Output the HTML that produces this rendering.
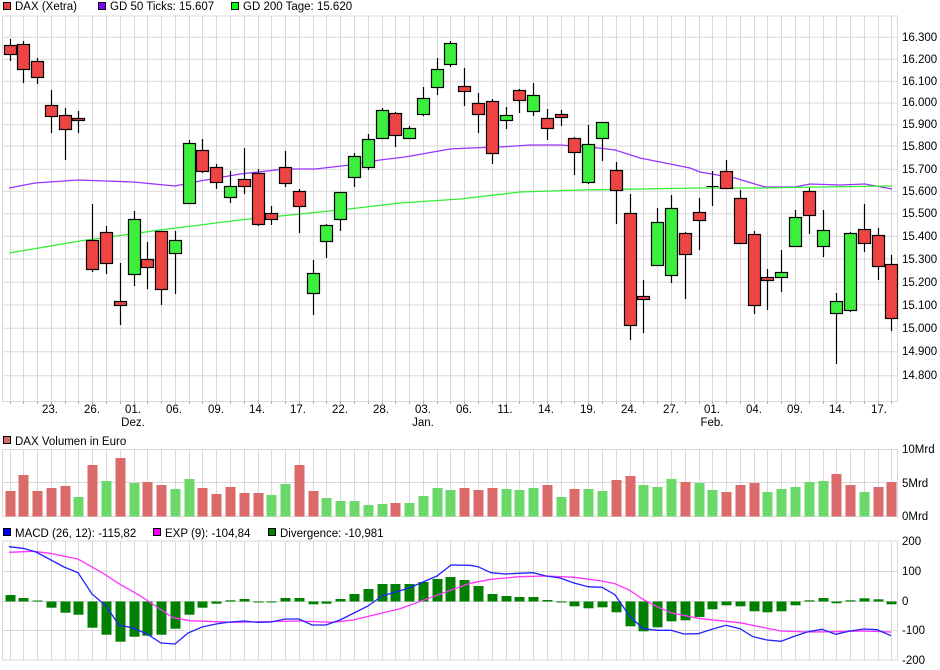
<!DOCTYPE html>
<html><head><meta charset="utf-8"><style>
html,body{margin:0;padding:0;background:#fff;}
svg{display:block;font-family:"Liberation Sans",sans-serif;}
</style></head><body>
<svg id="s" width="940" height="670" viewBox="0 0 940 670" xmlns="http://www.w3.org/2000/svg">
<rect width="940" height="670" fill="#fff"/>
<g id="grid"></g>
<g id="content"></g>
<g font-size="11.5" fill="#000">
<rect x="3.5" y="2.5" width="7" height="7" fill="#e84040" stroke="#000"/><text x="15" y="10">DAX (Xetra)</text>
<rect x="98.5" y="2.5" width="7" height="7" fill="#8000ff" stroke="#000"/><text x="110" y="10">GD 50 Ticks: 15.607</text>
<rect x="231.5" y="2.5" width="7" height="7" fill="#00ff00" stroke="#000"/><text x="243" y="10">GD 200 Tage: 15.620</text>
<rect x="3.5" y="436.5" width="7" height="7" fill="#d96b6b" stroke="#000"/><text x="15" y="445">DAX Volumen in Euro</text>
<rect x="3.5" y="528.5" width="7" height="7" fill="#0000ff" stroke="#000"/><text x="15" y="537">MACD (26, 12): -115,82</text>
<rect x="153.5" y="528.5" width="7" height="7" fill="#ff00ff" stroke="#000"/><text x="165" y="537">EXP (9): -104,84</text>
<rect x="268.5" y="528.5" width="7" height="7" fill="#008000" stroke="#000"/><text x="280" y="537">Divergence: -10,981</text>
</g>
<g font-size="11.5" fill="#000">
<text x="902" y="41">16.300</text><text x="902" y="63">16.200</text><text x="902" y="85">16.100</text><text x="902" y="106">16.000</text>
<text x="902" y="128">15.900</text><text x="902" y="150">15.800</text><text x="902" y="173">15.700</text><text x="902" y="195">15.600</text>
<text x="902" y="217">15.500</text><text x="902" y="240">15.400</text><text x="902" y="263">15.300</text><text x="902" y="286">15.200</text>
<text x="902" y="309">15.100</text><text x="902" y="332">15.000</text><text x="902" y="355">14.900</text><text x="902" y="379">14.800</text>
<text x="902" y="453">10Mrd</text><text x="902" y="487">5Mrd</text><text x="902" y="520">0Mrd</text>
<text x="902" y="545">200</text><text x="902" y="575">100</text><text x="902" y="605">0</text><text x="902" y="634">-100</text><text x="902" y="664">-200</text>
</g>
<g font-size="11.5" fill="#000" text-anchor="middle">
<text x="50" y="413">23.</text><text x="92" y="413">26.</text><text x="133" y="413">01.</text><text x="174" y="413">06.</text>
<text x="216" y="413">09.</text><text x="257" y="413">14.</text><text x="298" y="413">17.</text><text x="340" y="413">22.</text>
<text x="381" y="413">28.</text><text x="423" y="413">03.</text><text x="464" y="413">06.</text><text x="505" y="413">11.</text>
<text x="546" y="413">14.</text><text x="588" y="413">19.</text><text x="629" y="413">24.</text><text x="671" y="413">27.</text>
<text x="712" y="413">01.</text><text x="754" y="413">04.</text><text x="795" y="413">09.</text><text x="837" y="413">14.</text>
<text x="879" y="413">17.</text>
<text x="133" y="426">Dez.</text><text x="423" y="426">Jan.</text><text x="712" y="426">Feb.</text>
</g>
</svg>
<script>
var NS="http://www.w3.org/2000/svg";
function el(p,t,a){var e=document.createElementNS(NS,t);for(var k in a)e.setAttribute(k,a[k]);p.appendChild(e);return e;}
var G=document.getElementById('grid'),C=document.getElementById('content');
function X(k){return 9.5+k*13.78;}
var gc="#d8d8d8";
// main panel grid
var hy=[16,37.3,59.3,81.3,103,124.7,146,169.3,191.3,213.7,236.3,259,282.3,305,328.3,351.7,375.7,401.5];
hy.forEach(function(y){el(G,'line',{x1:2,x2:898,y1:y,y2:y,stroke:gc,'stroke-width':1});});
[[449.5,482.5,516.5],[541,571.5,601.5,630.5,660]].forEach(function(a){a.forEach(function(y){el(G,'line',{x1:2,x2:898,y1:y,y2:y,stroke:gc});});});
for(var k=0;k<65;k++){var x=Math.round(X(k))+0.5;
 el(G,'line',{x1:x,x2:x,y1:16,y2:401.5,stroke:gc});
 el(G,'line',{x1:x,x2:x,y1:401.5,y2:404,stroke:'#aaa'});
 el(G,'line',{x1:x,x2:x,y1:449.5,y2:516.5,stroke:gc});
 el(G,'line',{x1:x,x2:x,y1:541,y2:660,stroke:gc});}
[2.5,897.5].forEach(function(x){el(G,'line',{x1:x,x2:x,y1:16,y2:401.5,stroke:gc});el(G,'line',{x1:x,x2:x,y1:449.5,y2:516.5,stroke:gc});el(G,'line',{x1:x,x2:x,y1:541,y2:660,stroke:gc});});
// MAs
function pl(pts,col){el(C,'polyline',{points:pts.map(function(p){return p.join(',')}).join(' '),fill:'none',stroke:col,'stroke-width':1.3});}
pl([[9,188],[35,183],[78,180],[105,181],[133,182],[175,186],[200,181],[240,174],[285,169],[315,169],[350,165],[380,160],[405,157],[450,149],[470,148],[500,147],[530,145],[560,145],[590,147],[615,150],[640,158],[660,162],[690,168],[700,172],[735,178],[765,187],[795,187],[810,184],[840,185],[865,184],[892,189]],'#9933ff');
pl([[9,253],[80,241],[160,230],[240,220],[300,214],[340,210],[400,203],[460,199],[520,192],[580,190],[640,189],[700,188],[760,188],[820,187],[892,186]],'#33ee33');
// candles: bodyTop, bodyBot, wickTop, wickBot, color
var cd=[[45,54,39,61,'r'],[44,69,41,83,'r'],[61,77,58,84,'r'],[105,116,90,133,'r'],[115,129,108,160,'r'],[118,120,111,133,'r'],
[240,269,204,272,'r'],[232,263,226,274,'r'],[301,305,263,325,'r'],[219,274,211,286,'g'],[259,267,242,289,'r'],[231,289,231,305,'r'],
[240,253,231,294,'g'],[143,203,140,203,'g'],[150,171,139,173,'r'],[167,182,164,189,'r'],[186,197,171,203,'g'],[179,186,148,194,'r'],
[173,224,169,226,'r'],[213,219,206,225,'r'],[167,183,151,187,'r'],[191,206,189,233,'r'],[273,293,260,315,'g'],[225,241,224,258,'g'],
[192,219,192,231,'g'],[156,177,153,187,'g'],[139,167,134,170,'g'],[110,138,108,139,'g'],[113,135,112,147,'r'],[128,138,126,139,'g'],
[98,114,87,116,'g'],[69,87,58,95,'g'],[43,64,41,67,'g'],[86,91,68,106,'r'],[103,114,93,133,'r'],[101,153,99,164,'r'],
[115,120,107,129,'g'],[90,100,89,113,'r'],[95,111,83,116,'g'],[118,128,109,140,'r'],[114,117,110,126,'r'],[138,152,137,175,'r'],
[144,182,125,184,'g'],[122,138,122,161,'g'],[170,190,162,224,'r'],[213,325,194,340,'r'],[296,299,280,333,'r'],[222,265,208,265,'g'],
[208,275,195,283,'g'],[233,254,232,299,'r'],[212,220,198,250,'r'],[186,186,171,206,'d'],[171,188,160,189,'r'],[198,243,190,243,'r'],
[234,305,231,314,'r'],[277,280,269,310,'r'],[272,277,250,292,'g'],[217,246,210,247,'g'],[191,215,188,234,'r'],[230,246,210,257,'g'],
[301,313,293,364,'g'],[233,310,232,312,'g'],[229,243,204,252,'r'],[235,266,228,280,'r'],[264,318,255,331,'r']];
cd.forEach(function(c,k){var x=Math.round(X(k))+0.5;
 el(C,'line',{x1:x,x2:x,y1:c[2],y2:c[3],stroke:'#000','stroke-width':1.2});
 if(c[4]=='d'){el(C,'line',{x1:x-6,x2:x+6,y1:c[0]+.5,y2:c[0]+.5,stroke:'#000'});return;}
 el(C,'rect',{x:x-6,y:c[0]+.5,width:12,height:Math.max(2,c[1]-c[0]),fill:c[4]=='r'?'#ef4444':'#3def3d',stroke:'#000','stroke-width':1.2});});
// volume
var vt=[491,475,491,488,486,497,465,481,458,483,482,485,489,479,488,494,487,493,493,495,484,465,491,498,501,501,505,504,503,503,496,488,490,488,
490,488,489,490,488,485,497,489,489,491,480,476,485,487,479,482,483,490,492,485,483,492,489,487,482,481,474,485,492,487,482];
var vc="rrrrrgrgrgrrggrrrrrggrrgggggrgggg r rrgggrgrggrrgggrggrrrgggggrrgrrr".replace(/ /g,'');
vt.forEach(function(t,k){var x=Math.round(X(k))+0.5;el(C,'rect',{x:x-5,y:t,width:10,height:516.5-t,fill:vc[k]=='r'?'#db6a6a':'#6ad96a'});});
// histogram
var ht=[595,598,600.5,607.7,612.7,614.7,627.7,634.7,641.7,636.7,635.7,634.7,628.7,614.7,607.7,603.7,600.3,599,602,602,598,598,604.3,603.7,599,594,589,584,584,584,582,579,577,580,
586,594,596,597,597,600,602.3,606.3,608.3,607.3,612.3,626.3,631.3,627.3,621.3,620.3,617,609.3,605.3,606.3,611.3,612.3,611.3,605.3,600.3,598,603.3,600.3,598.3,599.3,604.3];
ht.forEach(function(t,k){var x=Math.round(X(k))+0.5;var y0=601.5;el(C,'rect',{x:x-5,y:Math.min(t,y0),width:10,height:Math.max(1,Math.abs(t-y0)),fill:'#008000'});});
pl([[9,552.3],[33,551.3],[50,553.3],[78,559],[103,573.3],[120,584.3],[140,595.7],[157,607],[173,617.7],[190,620.7],[233,622.3],[300,621],[333,622.3],[353,620],[400,608.7],[433,596.7],[470,583.3],[491,579.3],[519,576.7],[546,576],[574,577.3],[602,581],[615,583.7],[629,590],[643,599.3],[657,606.7],[671,612.7],[698,618.3],[726,621.3],[740,622.7],[767,628.3],[781,631],[808,632],[836,631.7],[864,631],[891,632]],'#ff33ff');
pl([[9,546.7],[23,548.3],[36,552],[64,567],[78,572.7],[92,594],[106,606],[119,625],[133,628],[147,634],[161,643],[175,644],[188,633],[202,627],[216,624],[230,622],[244,621],[257,622.3],[271,622],[285,619],[299,619],[312,625],[326,625],[340,620],[354,613],[368,606],[382,596],[396,592],[409,588],[423,582],[437,576],[451,565],[470,565.3],[478,566.7],[491,572.7],[505,574],[519,573.3],[533,572.7],[546,576],[560,578],[574,583],[588,586.7],[602,587.3],[615,594.7],[629,615.3],[643,628.7],[657,630.3],[671,630.3],[684,634],[698,633.7],[712,629.3],[726,625.3],[740,628.7],[753,636.7],[767,640],[781,641.3],[795,636],[808,631.7],[822,629.3],[836,634.3],[850,631],[864,629],[877,629.7],[891,635.7]],'#2222ff');
</script>
</body></html>
